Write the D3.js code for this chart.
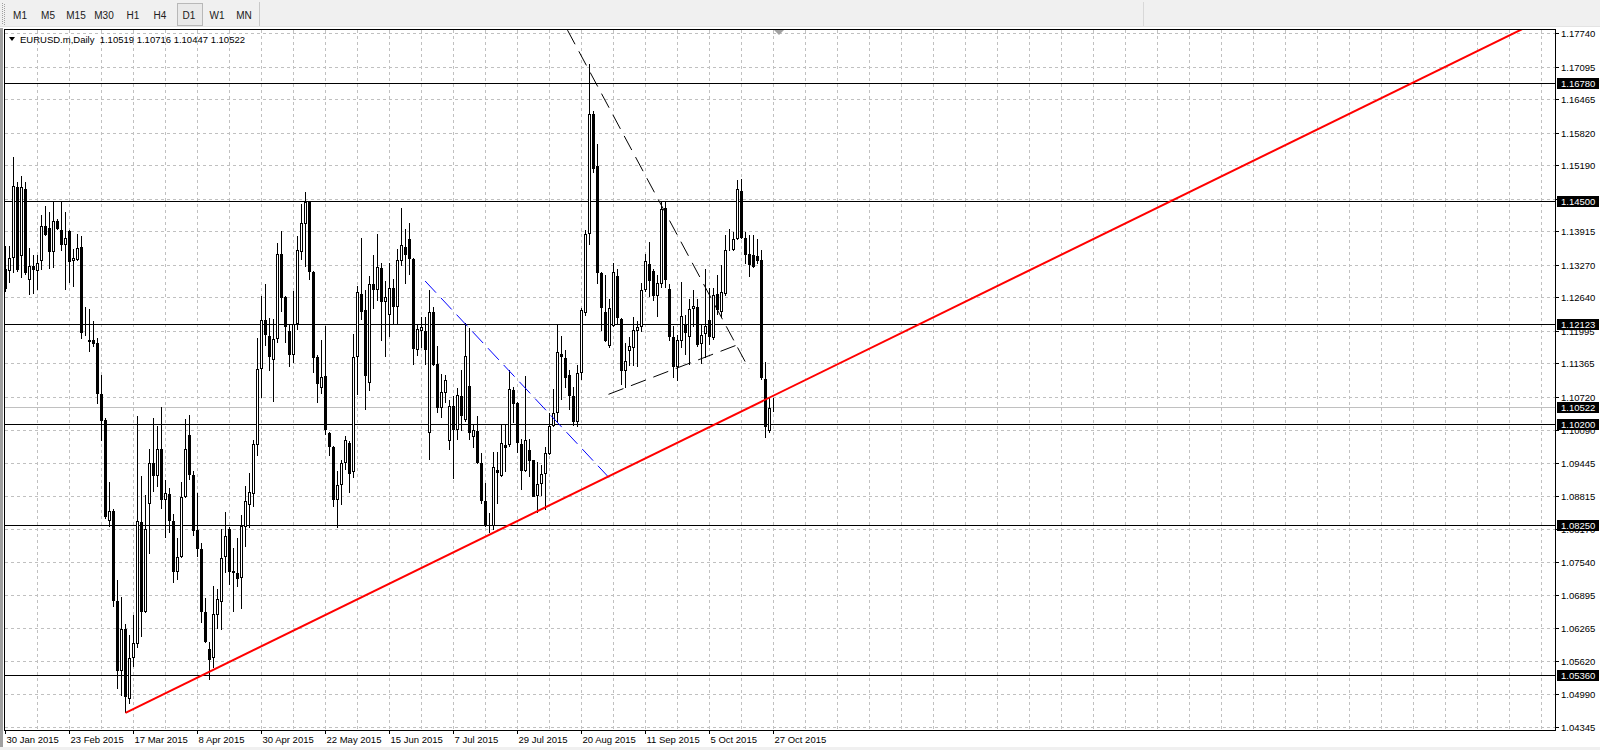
<!DOCTYPE html>
<html><head><meta charset="utf-8">
<script src="https://cdn.jsdelivr.net/npm/d3@7"></script>
<style>
body{margin:0;background:#fff;overflow:hidden}
text{font-family:"Liberation Sans",Arial,sans-serif;}
</style>
</head><body><svg id="c" width="1600" height="750"></svg>
<script>
// ---------------- DATA ----------------
const symbolTitle = "EURUSD.m,Daily";
const titleValues = ["1.10519", "1.10716", "1.10447", "1.10522"];
const timeframes = ["M1","M5","M15","M30","H1","H4","D1","W1","MN"];
const activeTimeframe = "D1";

const open = [
1.1320,1.1316,1.1341,1.1478,1.1344,1.1475,1.1298,1.1325,1.1316,1.1335,
1.1403,1.1399,1.1353,1.1412,1.1396,1.1367,1.1393,1.1336,1.1337,1.1362,
1.1197,1.1179,1.1182,1.1177,1.1078,1.1028,1.0833,1.0853,1.0679,1.0544,
1.0625,1.0490,1.0568,1.0596,1.0831,1.0657,1.0866,1.0946,1.0920,1.0972,
1.0874,1.0886,1.0834,1.0735,1.0763,1.0880,1.1000,1.0922,1.0815,1.0779,
1.0657,1.0586,1.0568,1.0652,1.0677,1.0763,1.0818,1.0737,1.0732,1.0724,
1.0822,1.0864,1.0886,1.0980,1.1127,1.1222,1.1191,1.1144,1.1185,1.1348,
1.1266,1.1201,1.1153,1.1214,1.1353,1.1407,1.1449,1.1315,1.1150,1.1090,
1.1114,1.1003,1.0977,1.0873,1.0903,1.0946,1.0984,1.0927,1.1150,1.1272,
1.1240,1.1099,1.1290,1.1280,1.1321,1.1256,1.1231,1.1283,1.1247,1.1335,
1.1363,1.1377,1.1340,1.1163,1.1201,1.1201,1.1003,1.1237,1.1137,1.1051,
1.1080,1.0988,1.1056,1.1009,1.1075,1.1028,1.1094,1.0996,1.1008,1.0946,
1.0871,1.0828,1.0823,1.0932,1.0921,1.0980,1.0981,1.1087,1.1061,1.0982,
1.0930,1.0970,1.0951,1.0881,1.0904,1.0924,1.0963,1.1017,1.1041,1.1156,
1.1148,1.1116,1.1075,1.1025,1.1119,1.1235,1.1388,1.1620,1.1519,1.1312,
1.1237,1.1172,1.1209,1.1307,1.1224,1.1122,1.1161,1.1167,1.1201,1.1207,
1.1280,1.1330,1.1316,1.1267,1.1290,1.1438,1.1281,1.1188,1.1130,1.1181,
1.1212,1.1188,1.1243,1.1247,1.1175,1.1194,1.1222,1.1187,1.1272,1.1236,
1.1272,1.1361,1.1356,1.1378,1.1470,1.1380,1.1349,1.1346,1.1345,1.1337,
1.1108,1.1007,1.10519];
const high = [
1.1364,1.1364,1.1536,1.1487,1.1499,1.1487,1.1360,1.1346,1.1346,1.1424,
1.1442,1.1429,1.1449,1.1416,1.1449,1.1429,1.1396,1.1358,1.1388,1.1383,
1.1246,1.1242,1.1219,1.1186,1.1115,1.1033,1.0908,1.0856,1.0720,1.0686,
1.0634,1.0613,1.0652,1.1037,1.0920,1.0883,1.0972,1.1032,1.1017,1.1053,
1.0913,1.0897,1.0847,1.0801,1.0908,1.1031,1.1038,1.0930,1.0887,1.0791,
1.0685,1.0600,1.0708,1.0702,1.0817,1.0850,1.0821,1.0782,1.0800,1.0845,
1.0900,1.0926,1.0990,1.1187,1.1267,1.1290,1.1226,1.1224,1.1371,1.1393,
1.1267,1.1213,1.1278,1.1384,1.1445,1.1469,1.1452,1.1316,1.1153,1.1182,
1.1209,1.1006,1.0978,1.0929,1.0951,1.0998,1.0988,1.1195,1.1287,1.1380,
1.1280,1.1306,1.1346,1.1387,1.1332,1.1297,1.1332,1.1300,1.1358,1.1437,
1.1398,1.1409,1.1342,1.1212,1.1227,1.1227,1.1279,1.1246,1.1172,1.1117,
1.1116,1.1067,1.1074,1.1091,1.1125,1.1216,1.1206,1.1021,1.1036,1.0964,
1.0906,1.0848,1.0967,1.0967,1.1019,1.1020,1.1124,1.1093,1.1063,1.0991,
1.1114,1.0991,1.0952,1.0948,1.0941,1.0977,1.1041,1.1088,1.1214,1.1190,
1.1164,1.1125,1.1092,1.1134,1.1245,1.1395,1.1715,1.1625,1.1561,1.1315,
1.1309,1.1261,1.1332,1.1319,1.1225,1.1177,1.1188,1.1228,1.1219,1.1293,
1.1349,1.1372,1.1319,1.1309,1.1451,1.1451,1.1290,1.1209,1.1192,1.1295,
1.1232,1.1261,1.1280,1.1261,1.1214,1.1319,1.1283,1.1283,1.1309,1.1328,
1.1386,1.1398,1.1392,1.1491,1.1494,1.1392,1.1385,1.1385,1.1377,1.1356,
1.1141,1.1070,1.10716];
const low = [
1.1275,1.1292,1.1313,1.1314,1.1302,1.1309,1.1270,1.1271,1.1279,1.1318,
1.1383,1.1320,1.1322,1.1396,1.1355,1.1279,1.1293,1.1286,1.1335,1.1184,
1.1191,1.1160,1.1170,1.1060,1.0987,1.0838,1.0822,1.0667,1.0509,1.0495,
1.0463,1.0480,1.0551,1.0589,1.0610,1.0656,1.0769,1.0890,1.0899,1.0857,
1.0801,1.0810,1.0714,1.0720,1.0762,1.0878,1.0913,1.0805,1.0763,1.0636,
1.0597,1.0526,1.0549,1.0624,1.0623,1.0732,1.0710,1.0658,1.0706,1.0664,
1.0784,1.0819,1.0861,1.0958,1.1071,1.1172,1.1122,1.1064,1.1177,1.1237,
1.1177,1.1131,1.1138,1.1202,1.1338,1.1324,1.1298,1.1119,1.1061,1.1079,
1.1000,1.0958,1.0861,1.0819,1.0864,1.0932,1.0887,1.0916,1.1077,1.1221,
1.1048,1.1084,1.1242,1.1258,1.1180,1.1149,1.1188,1.1212,1.1214,1.1325,
1.1290,1.1309,1.1135,1.1151,1.1167,1.1135,1.0951,1.1132,1.1041,1.1032,
1.1061,1.0970,1.0915,1.0990,1.1008,1.1025,1.0990,1.0974,1.0944,1.0867,
1.0822,1.0810,1.0815,1.0867,1.0919,1.0928,1.0977,1.1022,1.0964,1.0893,
1.0928,1.0919,1.0879,1.0848,1.0881,1.0854,1.0961,1.1015,1.1022,1.1067,
1.1090,1.1048,1.1017,1.1015,1.1106,1.1230,1.1367,1.1505,1.1290,1.1201,
1.1179,1.1167,1.1207,1.1212,1.1096,1.1090,1.1132,1.1132,1.1130,1.1199,
1.1276,1.1265,1.1259,1.1228,1.1283,1.1283,1.1180,1.1109,1.1104,1.1167,
1.1154,1.1135,1.1207,1.1170,1.1136,1.1148,1.1174,1.1183,1.1232,1.1225,
1.1267,1.1354,1.1354,1.1375,1.1377,1.1330,1.1304,1.1322,1.1330,1.1105,
1.0993,1.1003,1.10447];
const close = [
1.1282,1.1341,1.1480,1.1318,1.1478,1.1312,1.1325,1.1318,1.1332,1.1403,
1.1386,1.1353,1.1412,1.1398,1.1367,1.1379,1.1334,1.1341,1.1360,1.1197,
1.1196,1.1183,1.1175,1.1078,1.1026,1.0841,1.0853,1.0679,1.0544,1.0624,
1.0493,1.0568,1.0597,1.0833,1.0657,1.0817,1.0946,1.0920,1.0972,1.0874,
1.0888,1.0834,1.0735,1.0763,1.0880,1.0972,1.0923,1.0814,1.0779,1.0658,
1.0600,1.0565,1.0653,1.0682,1.0761,1.0804,1.0735,1.0733,1.0722,1.0824,
1.0871,1.0889,1.0982,1.1127,1.1222,1.1193,1.1150,1.1185,1.1348,1.1264,
1.1208,1.1153,1.1214,1.1356,1.1409,1.1449,1.1314,1.1148,1.1098,1.1111,
1.1009,1.0976,1.0873,1.0903,1.0945,1.0990,1.0924,1.1150,1.1276,1.1237,
1.1113,1.1291,1.1279,1.1324,1.1257,1.1266,1.1284,1.1247,1.1338,1.1367,
1.1347,1.1340,1.1166,1.1204,1.1207,1.1163,1.1237,1.1134,1.1051,1.1082,
1.1105,1.1056,1.1009,1.1077,1.1037,1.1152,1.1004,1.1009,1.0946,1.0871,
1.0825,1.0825,1.0938,1.0926,1.0983,1.0975,1.1088,1.1059,1.0984,1.0930,
1.0990,1.0950,1.0880,1.0904,1.0924,1.0964,1.1017,1.1041,1.1159,1.1150,
1.1109,1.1074,1.1025,1.1119,1.1240,1.1388,1.1620,1.1512,1.1312,1.1245,
1.1180,1.1245,1.1314,1.1225,1.1122,1.1143,1.1172,1.1203,1.1207,1.1280,
1.1336,1.1296,1.1267,1.1292,1.1435,1.1299,1.1188,1.1130,1.1183,1.1230,
1.1196,1.1243,1.1249,1.1174,1.1193,1.1209,1.1188,1.1270,1.1241,1.1276,
1.1357,1.1363,1.1378,1.1474,1.1379,1.1346,1.1327,1.1324,1.1335,1.1109,
1.1014,1.1051,1.10522];

const dateLabels = ["30 Jan 2015","23 Feb 2015","17 Mar 2015","8 Apr 2015","30 Apr 2015",
  "22 May 2015","15 Jun 2015","7 Jul 2015","29 Jul 2015","20 Aug 2015","11 Sep 2015",
  "5 Oct 2015","27 Oct 2015"];
const dateLabelStep = 16;          // bars between date labels
const gridBarStep = 8;             // bars between vertical grid lines

const priceTicks = [1.17740,1.17095,1.16465,1.15820,1.15190,1.14545,1.13915,1.13270,
  1.12640,1.11995,1.11365,1.10720,1.10090,1.09445,1.08815,1.08170,1.07540,1.06895,
  1.06265,1.05620,1.04990,1.04345];
const levels = [1.16780,1.14500,1.12123,1.10200,1.08250,1.05360];
const bidPrice = 1.10522;

// trend objects: bar index + price anchors
const redBars = [30, 192],        redPrices = [1.0463, 1.10754];
const blueBars = [104.9, 151.2],  bluePrices = [1.12967, 1.09144];
const upperBars = [140.5, 185.9], upperPrices = [1.1781, 1.11268];
const lowerBars = [150.75, 182.85], lowerPrices = [1.10779, 1.11731];

// ---------------- DRAW ----------------
const svg = d3.select("#c");
const L = 5, R = 1555, T = 30, B = 730;
const x = d3.scaleLinear().domain([0, 192]).range([5.5, 773.5]);
const y = d3.scaleLinear().domain([1.05360, 1.16780]).range([675, 83.5]);
const yl = p => Math.floor(y(p)) + 0.5;

svg.append("rect").attr("width",1600).attr("height",750).attr("fill","#fff");
// toolbar
svg.append("rect").attr("x",0).attr("y",0).attr("width",1600).attr("height",27).attr("fill","#f0f0f0");
svg.append("line").attr("x1",0).attr("x2",1600).attr("y1",26.5).attr("y2",26.5).attr("stroke","#e3e3e3");
for (let gy = 3; gy < 25; gy += 2) {
  svg.append("rect").attr("x",2).attr("y",gy).attr("width",1).attr("height",1).attr("fill","#a0a0a0");
  svg.append("rect").attr("x",4).attr("y",gy+1).attr("width",1).attr("height",1).attr("fill","#a0a0a0");
}
const tfX = [20,48,76,104,133,160,189,217,244];
timeframes.forEach((t,i) => {
  if (t === activeTimeframe) {
    svg.append("rect").attr("x",tfX[i]-11.5).attr("y",3.5).attr("width",25).attr("height",22)
      .attr("fill","#e9e9e9").attr("stroke","#b8b8b8");
  }
  svg.append("text").attr("x",tfX[i]).attr("y",18.5).attr("text-anchor","middle")
    .attr("font-size",10).attr("fill","#202020").text(t);
});
svg.append("line").attr("x1",259.5).attr("x2",259.5).attr("y1",2).attr("y2",26).attr("stroke","#c8c8c8");
svg.append("line").attr("x1",1143.5).attr("x2",1143.5).attr("y1",2).attr("y2",26).attr("stroke","#d8d8d8");

// left strip & bottom strip
svg.append("rect").attr("x",0).attr("y",28).attr("width",3).attr("height",722).attr("fill","#a0a0a0");
svg.append("rect").attr("x",0).attr("y",747).attr("width",1600).attr("height",3).attr("fill","#f0f0f0");

// clip
svg.append("clipPath").attr("id","clip").append("rect").attr("x",L).attr("y",T).attr("width",R-L).attr("height",B-T);
const plot = svg.append("g").attr("clip-path","url(#clip)");

// grid
const grid = plot.append("g").attr("stroke","#c0c0c0").attr("stroke-dasharray","3,3");
priceTicks.forEach(p => grid.append("line").attr("x1",L).attr("x2",R).attr("y1",yl(p)).attr("y2",yl(p)));
for (let b = gridBarStep; x(b) < R; b += gridBarStep)
  grid.append("line").attr("x1",x(b)).attr("x2",x(b)).attr("y1",T).attr("y2",B);

// bid line
plot.append("line").attr("x1",L).attr("x2",R).attr("y1",yl(bidPrice)).attr("y2",yl(bidPrice)).attr("stroke","#c0c0c0");
// levels
levels.forEach(p => plot.append("line").attr("x1",L).attr("x2",R).attr("y1",yl(p)).attr("y2",yl(p)).attr("stroke","#000"));

// candles
const idx = d3.range(open.length);
const cg = plot.append("g");
idx.forEach(i => {
  const cx = x(i);
  cg.append("line").attr("x1",cx).attr("x2",cx).attr("y1",Math.round(y(high[i]))).attr("y2",Math.round(y(low[i])))
    .attr("stroke","#000");
  const top = Math.round(y(Math.max(open[i],close[i])));
  const bot = Math.round(y(Math.min(open[i],close[i])));
  const bull = close[i] >= open[i];
  cg.append("rect").attr("x",cx-1).attr("y",top+0.5).attr("width",2).attr("height",Math.max(0,bot-top-1))
    .attr("fill",bull?"#fff":"#000").attr("stroke","#000");
});

// trend lines
function seg(bars, prices, extendTo) {
  let x1 = x(bars[0]), y1 = y(prices[0]), x2 = x(bars[1]), y2 = y(prices[1]);
  if (extendTo !== undefined) {
    const s = (prices[1]-prices[0])/(bars[1]-bars[0]);
    x2 = x(extendTo); y2 = y(prices[0] + s*(extendTo-bars[0]));
  }
  return plot.append("line").attr("x1",x1).attr("y1",y1).attr("x2",x2).attr("y2",y2);
}
seg(blueBars, bluePrices).attr("stroke","#0000ff").attr("stroke-dasharray","16,7");
seg(upperBars, upperPrices).attr("stroke","#000").attr("stroke-dasharray","16,8");
seg(lowerBars, lowerPrices).attr("stroke","#000").attr("stroke-dasharray","16,8");
seg(redBars, redPrices, 420).attr("stroke","#ff0000").attr("stroke-width",2);

// frame
svg.append("rect").attr("x",L-0.5).attr("y",T-0.5).attr("width",R-L+1).attr("height",B-T+1)
  .attr("fill","none").attr("stroke","#000");

// title
svg.append("path").attr("d","M9,37 L15,37 L12,41 Z").attr("fill","#000");
svg.append("text").attr("x",20).attr("y",43).attr("font-size",9.5).attr("fill","#000")
  .attr("xml:space","preserve").text(symbolTitle + "  " + titleValues.join(" "));

// chart shift marker
svg.append("path").attr("d","M774,30 L784,30 L779,35 Z").attr("fill","#a0a0a0");

// price axis
const pa = svg.append("g");
priceTicks.forEach(p => {
  pa.append("line").attr("x1",R).attr("x2",R+4).attr("y1",yl(p)).attr("y2",yl(p)).attr("stroke","#000");
  pa.append("text").attr("x",1561).attr("y",yl(p)+3.5).attr("font-size",9.5).attr("fill","#000")
    .text(p.toFixed(5));
});
[...levels, bidPrice].forEach(p => {
  pa.append("rect").attr("x",1557).attr("y",yl(p)-5.5).attr("width",42).attr("height",11).attr("fill","#000");
  pa.append("text").attr("x",1561).attr("y",yl(p)+3.5).attr("font-size",9.5).attr("fill","#fff")
    .text(p.toFixed(5));
});

// time axis
dateLabels.forEach((d,j) => {
  const bx = x(j*dateLabelStep);
  svg.append("line").attr("x1",bx).attr("x2",bx).attr("y1",B).attr("y2",B+4).attr("stroke","#000");
  svg.append("text").attr("x",bx+1).attr("y",743).attr("font-size",9.5).attr("fill","#000").text(d);
});
</script>
</body></html>
